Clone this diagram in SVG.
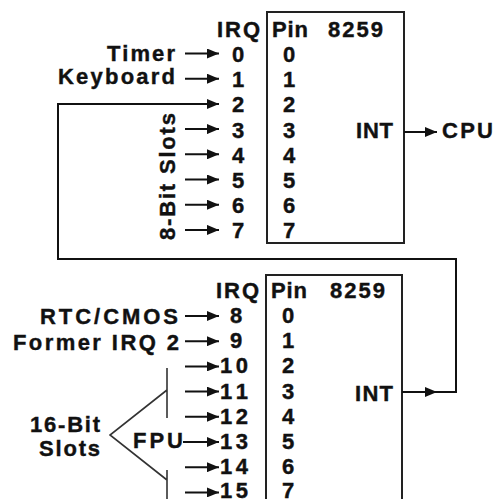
<svg xmlns="http://www.w3.org/2000/svg" width="499" height="499" viewBox="0 0 499 499">
<defs>
<marker id="ah" markerUnits="userSpaceOnUse" markerWidth="13" markerHeight="10" refX="12" refY="5" orient="auto">
<path d="M0,0 L12,5 L0,10 z" fill="#111"/>
</marker>
<style>
text{font-family:"Liberation Sans",Arial,sans-serif;font-weight:bold;font-size:22px;fill:#111;stroke:#111;stroke-width:0.4}
.num{text-anchor:middle}
.box{fill:#fff;stroke:#222;stroke-width:2}
.ar{fill:none;stroke:#111;stroke-width:2;marker-end:url(#ah)}
.br{fill:none;stroke:#333;stroke-width:1.6}
</style>
</defs>
<rect width="499" height="499" fill="#fff"/>

<g id="pic1">
<rect class="box" x="267" y="12" width="137" height="231"/>
<text x="272" y="37" textLength="36" lengthAdjust="spacing">Pin</text>
<text x="328" y="37" textLength="55" lengthAdjust="spacing">8259</text>
<g class="num">
<text x="289" y="62">0</text><text x="289" y="87.2">1</text><text x="289" y="112.4">2</text><text x="289" y="137.6">3</text>
<text x="289" y="162.8">4</text><text x="289" y="188">5</text><text x="289" y="213.2">6</text><text x="289" y="238.4">7</text>
</g>
<text x="356" y="138" textLength="37" lengthAdjust="spacing">INT</text>
</g>

<g id="irq-top">
<text x="217" y="37" textLength="43" lengthAdjust="spacing">IRQ</text>
<g class="num">
<text x="238" y="62">0</text><text x="238" y="87.2">1</text><text x="238" y="112.4">2</text><text x="238" y="137.6">3</text>
<text x="238" y="162.8">4</text><text x="238" y="188">5</text><text x="238" y="213.2">6</text><text x="238" y="238.4">7</text>
</g>
<text x="107" y="61" textLength="68" lengthAdjust="spacing">Timer</text>
<text x="58" y="84" textLength="117" lengthAdjust="spacing">Keyboard</text>
<text transform="translate(175,240) rotate(-90)" x="0" y="0" textLength="127" lengthAdjust="spacing">8-Bit Slots</text>
</g>

<g id="cpu">
<text x="442" y="138" textLength="51" lengthAdjust="spacing">CPU</text>
</g>

<g id="pic2">
<rect class="box" x="266" y="275" width="136" height="240"/>
<text x="271" y="298" textLength="36" lengthAdjust="spacing">Pin</text>
<text x="330" y="298" textLength="55" lengthAdjust="spacing">8259</text>
<g class="num">
<text x="288" y="323">0</text><text x="288" y="348.2">1</text><text x="288" y="373.4">2</text><text x="288" y="398.6">3</text>
<text x="288" y="423.8">4</text><text x="288" y="449">5</text><text x="288" y="474.2">6</text><text x="288" y="498">7</text>
</g>
<text x="355" y="401" textLength="38" lengthAdjust="spacing">INT</text>
</g>

<g id="irq-bottom">
<text x="216" y="298" textLength="43" lengthAdjust="spacing">IRQ</text>
<g class="num">
<text x="236" y="323">8</text><text x="236" y="348.2">9</text>
</g>
<text x="220" y="373.4" textLength="28" lengthAdjust="spacing">10</text>
<text x="220" y="398.6" textLength="28" lengthAdjust="spacing">11</text>
<text x="220" y="423.8" textLength="28" lengthAdjust="spacing">12</text>
<text x="220" y="449" textLength="28" lengthAdjust="spacing">13</text>
<text x="220" y="474.2" textLength="28" lengthAdjust="spacing">14</text>
<text x="220" y="498" textLength="28" lengthAdjust="spacing">15</text>
<text x="40" y="324" textLength="138" lengthAdjust="spacing">RTC/CMOS</text>
<text x="13" y="350" textLength="166" lengthAdjust="spacing">Former IRQ 2</text>
<text x="133" y="448" textLength="50" lengthAdjust="spacing">FPU</text>
<text x="30" y="432" textLength="70" lengthAdjust="spacing">16-Bit</text>
<text x="39" y="456" textLength="61" lengthAdjust="spacing">Slots</text>
<path class="br" d="M167,390 L110,435 L167,480 M167,368 V418 M167,470 V505"/>
</g>

<g id="connectors">
<path class="ar" d="M185,53.5 H219"/>
<path class="ar" d="M185,78.7 H219"/>
<path class="ar" d="M185,129.1 H219"/>
<path class="ar" d="M185,154.3 H219"/>
<path class="ar" d="M185,179.5 H219"/>
<path class="ar" d="M185,204.7 H219"/>
<path class="ar" d="M185,229.9 H219"/>
<path class="ar" d="M404,132 H437"/>
<path class="ar" d="M185,316 H219"/>
<path class="ar" d="M185,341.2 H219"/>
<path class="ar" d="M185,366.4 H219"/>
<path class="ar" d="M185,391.6 H219"/>
<path class="ar" d="M185,416.8 H219"/>
<path class="ar" d="M183,442 H219"/>
<path class="ar" d="M185,467.2 H219"/>
<path class="ar" d="M185,492.4 H219"/>
<path class="ar" d="M402,392 H437"/>
<path class="ar" d="M437,392 H456 V259 H58 V104 H219"/>
</g>
</svg>
